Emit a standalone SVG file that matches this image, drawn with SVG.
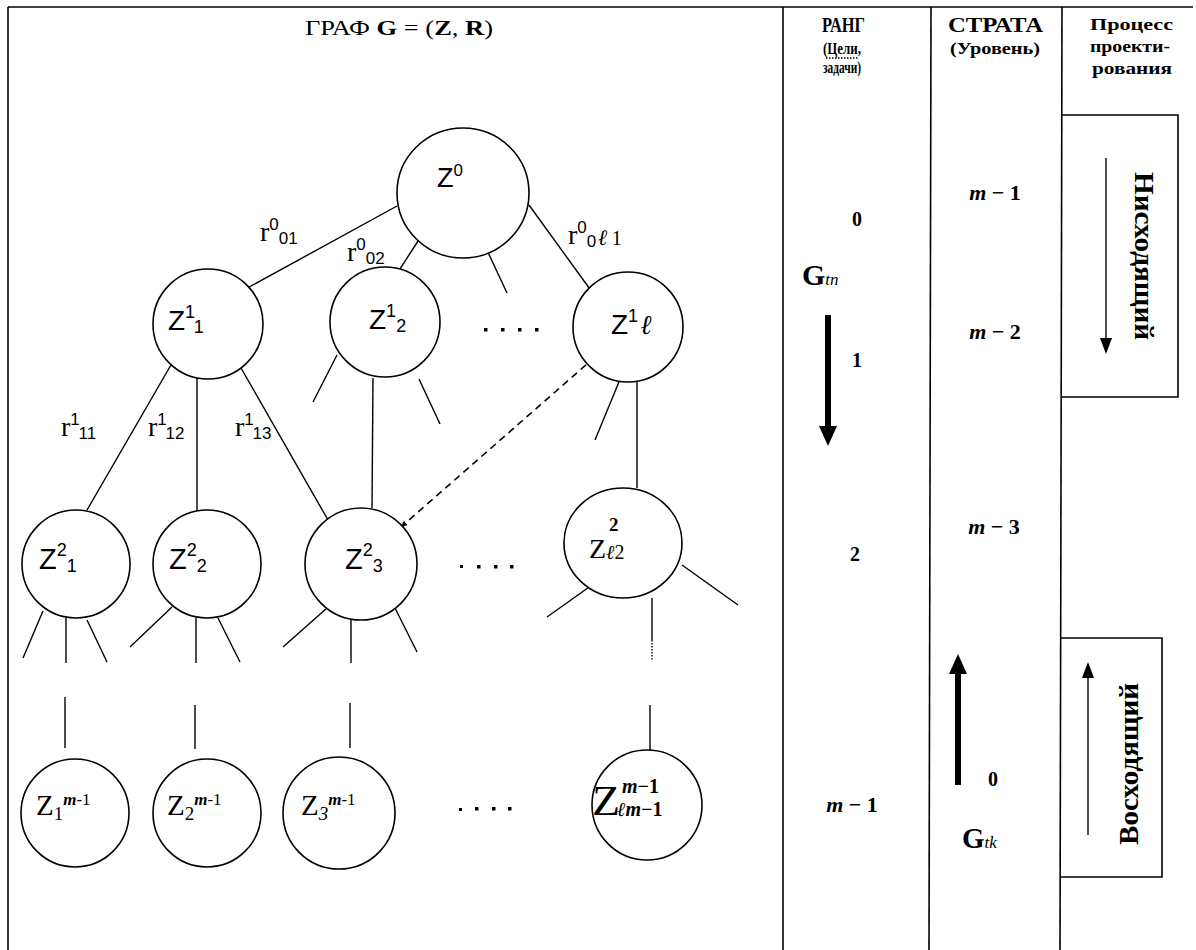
<svg xmlns="http://www.w3.org/2000/svg" width="1196" height="950" viewBox="0 0 1196 950">
  <defs>
    <marker id="tipSmall" viewBox="0 0 10 10" refX="9" refY="5" markerWidth="7" markerHeight="7" orient="auto" markerUnits="userSpaceOnUse">
      <path d="M0,1 L10,5 L0,9 z" fill="#000"/>
    </marker>
    <style>
      .frame { stroke: #000; stroke-width: 1.6; fill: none; }
      .ln { stroke: #000; stroke-width: 1.4; fill: none; }
      .dash { stroke: #000; stroke-width: 1.6; fill: none; stroke-dasharray: 7 5; }
      .dot { stroke: #000; stroke-width: 1.4; fill: none; stroke-dasharray: 1.5 1.5; }
      .nd { fill: #fff; stroke: #000; stroke-width: 1.6; }
      .sans { font-family: "Liberation Sans", Arial, sans-serif; fill: #000; }
      .serif { font-family: "Liberation Serif", "Times New Roman", serif; fill: #000; }
      .b { font-weight: bold; }
      .i { font-style: italic; }
      .dots { fill: #000; }
    </style>
  </defs>

  <rect width="1196" height="950" fill="#fff"/>

  <!-- table frame -->
  <g id="frame">
    <line class="frame" x1="8" y1="7" x2="1193" y2="7"/>
    <line class="frame" x1="8" y1="7" x2="8" y2="950"/>
    <line class="frame" x1="783" y1="7" x2="783" y2="950"/>
    <line class="frame" x1="931" y1="7" x2="929" y2="950"/>
    <line class="frame" x1="1062" y1="7" x2="1060" y2="950"/>
  </g>

  <!-- column headers -->
  <g id="headers">
    <text class="serif" x="305" y="35" font-size="22" textLength="188" lengthAdjust="spacingAndGlyphs">ГРАФ  <tspan class="b">G</tspan> = (<tspan class="b">Z</tspan>, <tspan class="b">R</tspan>)</text>
    <text class="serif b" x="822" y="32" font-size="20" textLength="43" lengthAdjust="spacingAndGlyphs">РАНГ</text>
    <text class="serif b" x="823" y="54" font-size="16" textLength="38" lengthAdjust="spacingAndGlyphs">(Цели,</text>
    <line class="dot" x1="826" y1="58" x2="858" y2="58" stroke-width="1"/>
    <text class="serif b" x="823" y="73" font-size="16" textLength="38" lengthAdjust="spacingAndGlyphs">задачи)</text>
    <text class="serif b" x="948" y="32" font-size="20" textLength="95" lengthAdjust="spacingAndGlyphs">СТРАТА</text>
    <text class="serif b" x="950" y="54" font-size="16" textLength="90" lengthAdjust="spacingAndGlyphs">(Уровень)</text>
    <text class="serif b" x="1090" y="30" font-size="16" textLength="83" lengthAdjust="spacingAndGlyphs">Процесс</text>
    <text class="serif b" x="1090" y="52" font-size="16" textLength="80" lengthAdjust="spacingAndGlyphs">проекти-</text>
    <text class="serif b" x="1092" y="74" font-size="16" textLength="80" lengthAdjust="spacingAndGlyphs">рования</text>
  </g>

  <!-- tree edges -->
  <g id="connectors">
    <line class="ln" x1="397" y1="206" x2="242" y2="291"/>
    <line class="ln" x1="420" y1="238" x2="398" y2="272"/>
    <line class="ln" x1="486" y1="248" x2="507" y2="293"/>
    <line class="ln" x1="529" y1="205" x2="592" y2="292"/>

    <line class="ln" x1="175" y1="358" x2="87" y2="510"/>
    <line class="ln" x1="197" y1="378" x2="197" y2="511"/>
    <line class="ln" x1="241" y1="368" x2="328" y2="520"/>
    <line class="ln" x1="337" y1="355" x2="313" y2="402"/>
    <line class="ln" x1="373" y1="378" x2="372" y2="508"/>
    <line class="ln" x1="419" y1="379" x2="440" y2="424"/>
    <line class="ln" x1="621" y1="377" x2="595" y2="440"/>
    <line class="ln" x1="637" y1="382" x2="637" y2="488"/>
    <line class="dash" x1="595" y1="357" x2="401" y2="527" marker-end="url(#tipSmall)"/>

    <line class="ln" x1="43" y1="611" x2="23" y2="658"/>
    <line class="ln" x1="66" y1="618" x2="66" y2="663"/>
    <line class="ln" x1="87" y1="620" x2="107" y2="662"/>
    <line class="ln" x1="172" y1="607" x2="130" y2="647"/>
    <line class="ln" x1="196" y1="618" x2="196" y2="663"/>
    <line class="ln" x1="218" y1="618" x2="240" y2="662"/>
    <line class="ln" x1="327" y1="608" x2="283" y2="647"/>
    <line class="ln" x1="351" y1="619" x2="351" y2="663"/>
    <line class="ln" x1="395" y1="608" x2="417" y2="652"/>
    <line class="ln" x1="592" y1="585" x2="547" y2="617"/>
    <line class="ln" x1="682" y1="565" x2="738" y2="605"/>
    <line class="ln" x1="652" y1="598" x2="652" y2="640"/>
    <line class="dot" x1="652" y1="640" x2="652" y2="660"/>

    <line class="ln" x1="65" y1="697" x2="65" y2="748"/>
    <line class="ln" x1="195" y1="705" x2="195" y2="749"/>
    <line class="ln" x1="350" y1="703" x2="350" y2="748"/>
    <line class="ln" x1="650" y1="705" x2="650" y2="750"/>
  </g>

  <!-- edge labels -->
  <g id="edge-labels">
    <text class="serif" x="260" y="241" font-size="28">r<tspan class="sans" font-size="17" dy="-11">0</tspan><tspan class="sans" font-size="17" dy="14">01</tspan></text>
    <text class="serif" x="347" y="261" font-size="28">r<tspan class="sans" font-size="17" dy="-11">0</tspan><tspan class="sans" font-size="17" dy="14">02</tspan></text>
    <text class="serif" x="568" y="244" font-size="28">r<tspan class="sans" font-size="17" dy="-11">0</tspan><tspan class="sans" font-size="17" dy="14">0</tspan><tspan class="i b" font-size="22" dx="2" dy="-2">ℓ</tspan><tspan font-size="20" dx="4">1</tspan></text>
    <text class="serif" x="61" y="436" font-size="28">r<tspan class="sans" font-size="17" dy="-11">1</tspan><tspan class="sans" font-size="17" dy="14">11</tspan></text>
    <text class="serif" x="148" y="436" font-size="28">r<tspan class="sans" font-size="17" dy="-11">1</tspan><tspan class="sans" font-size="17" dy="14">12</tspan></text>
    <text class="serif" x="235" y="436" font-size="28">r<tspan class="sans" font-size="17" dy="-11">1</tspan><tspan class="sans" font-size="17" dy="14">13</tspan></text>
  </g>

  <!-- level 0 -->
  <g id="z0">
    <ellipse class="nd" cx="463" cy="193" rx="66" ry="65"/>
    <text class="sans" x="437" y="187" font-size="27">Z<tspan font-size="17" dy="-11">0</tspan></text>
  </g>

  <!-- level 1 -->
  <g id="z1-1">
    <circle class="nd" cx="208" cy="324" r="55"/>
    <text class="sans" x="168" y="330" font-size="28">Z<tspan font-size="18" dy="-12">1</tspan><tspan font-size="18" dy="15">1</tspan></text>
  </g>
  <g id="z1-2">
    <circle class="nd" cx="385" cy="322" r="55"/>
    <text class="sans" x="369" y="329" font-size="28">Z<tspan font-size="18" dy="-12">1</tspan><tspan font-size="18" dy="15">2</tspan></text>
  </g>
  <g id="z1-l">
    <circle class="nd" cx="628" cy="327" r="55"/>
    <text class="sans" x="611" y="334" font-size="28">Z<tspan font-size="18" dy="-12">1</tspan><tspan class="serif i" font-size="27" dx="2" dy="12">ℓ</tspan></text>
  </g>

  <!-- level 2 -->
  <g id="z2-1">
    <circle class="nd" cx="76" cy="564" r="54"/>
    <text class="sans" x="39" y="569" font-size="29">Z<tspan font-size="18" dy="-13">2</tspan><tspan font-size="18" dy="16">1</tspan></text>
  </g>
  <g id="z2-2">
    <circle class="nd" cx="207" cy="564" r="54"/>
    <text class="sans" x="169" y="569" font-size="29">Z<tspan font-size="18" dy="-13">2</tspan><tspan font-size="18" dy="16">2</tspan></text>
  </g>
  <g id="z2-3">
    <circle class="nd" cx="361" cy="564" r="56"/>
    <text class="sans" x="345" y="569" font-size="29">Z<tspan font-size="18" dy="-13">2</tspan><tspan font-size="18" dy="16">3</tspan></text>
  </g>
  <g id="z2-l">
    <ellipse class="nd" cx="623" cy="543" rx="59" ry="55"/>
    <text class="serif b" x="609" y="531" font-size="19">2</text>
    <text class="serif" x="589" y="558" font-size="28">Z<tspan class="i" font-size="20" dy="1">ℓ</tspan><tspan font-size="20">2</tspan></text>
  </g>

  <!-- level m-1 -->
  <g id="zm-1">
    <circle class="nd" cx="75" cy="813" r="54"/>
    <text class="serif" x="36" y="815" font-size="29">Z<tspan font-size="19" dy="5">1</tspan><tspan class="i b" font-size="17" dy="-15">m</tspan><tspan font-size="17">-1</tspan></text>
  </g>
  <g id="zm-2">
    <circle class="nd" cx="207" cy="813" r="54"/>
    <text class="serif" x="167" y="815" font-size="29">Z<tspan font-size="19" dy="5">2</tspan><tspan class="i b" font-size="17" dy="-15">m</tspan><tspan font-size="17">-1</tspan></text>
  </g>
  <g id="zm-3">
    <circle class="nd" cx="339" cy="813" r="56"/>
    <text class="serif" x="301" y="815" font-size="29">Z<tspan class="i" font-size="19" dy="5">3</tspan><tspan class="i b" font-size="17" dy="-15">m</tspan><tspan font-size="17">-1</tspan></text>
  </g>
  <g id="zm-l">
    <circle class="nd" cx="647" cy="805" r="55"/>
    <text class="serif" x="592" y="815" font-size="42" textLength="28" lengthAdjust="spacingAndGlyphs">Z</text>
    <text class="serif b" x="622" y="793" font-size="20"><tspan class="i">m</tspan>−1</text>
    <text class="serif b" x="617" y="816" font-size="20"><tspan class="i">ℓm</tspan>−1</text>
  </g>

  <!-- ellipses between siblings -->
  <g id="ellipsis-marks" class="dots">
    <rect x="484" y="328" width="3.5" height="3.5"/>
    <rect x="501" y="328" width="3.5" height="3.5"/>
    <rect x="518" y="328" width="3.5" height="3.5"/>
    <rect x="535" y="328" width="3.5" height="3.5"/>
    <rect x="460" y="565" width="3" height="3"/>
    <rect x="477" y="565" width="3.5" height="3.5"/>
    <rect x="494" y="565" width="3.5" height="3.5"/>
    <rect x="510" y="565" width="3.5" height="3.5"/>
    <rect x="459" y="808" width="3" height="3"/>
    <rect x="475" y="807" width="3.5" height="3.5"/>
    <rect x="492" y="807" width="3.5" height="3.5"/>
    <rect x="508" y="807" width="3.5" height="3.5"/>
  </g>

  <!-- rank column -->
  <g id="rank">
    <text class="serif b" x="857" y="226" font-size="20" text-anchor="middle">0</text>
    <text class="serif b" x="802" y="285" font-size="30">G<tspan class="i" font-weight="normal" font-size="17">tn</tspan></text>
    <line x1="828" y1="315" x2="828" y2="428" stroke="#000" stroke-width="6"/>
    <polygon points="819,426 837,426 828,446" fill="#000"/>
    <text class="serif b" x="857" y="367" font-size="20" text-anchor="middle">1</text>
    <text class="serif b" x="855" y="561" font-size="20" text-anchor="middle">2</text>
    <text class="serif b" x="852" y="812" font-size="22" text-anchor="middle"><tspan class="i">m</tspan> − 1</text>
  </g>

  <!-- strata column -->
  <g id="strata">
    <text class="serif b" x="995" y="200" font-size="22" text-anchor="middle"><tspan class="i">m</tspan> − 1</text>
    <text class="serif b" x="995" y="339" font-size="22" text-anchor="middle"><tspan class="i">m</tspan> − 2</text>
    <text class="serif b" x="994" y="534" font-size="22" text-anchor="middle"><tspan class="i">m</tspan> − 3</text>
    <line x1="958" y1="785" x2="958" y2="672" stroke="#000" stroke-width="6"/>
    <polygon points="949,674 967,674 958,654" fill="#000"/>
    <text class="serif b" x="993" y="786" font-size="20" text-anchor="middle">0</text>
    <text class="serif b" x="962" y="848" font-size="29">G<tspan class="i" font-weight="normal" font-size="17">tk</tspan></text>
  </g>

  <!-- design process column -->
  <g id="process-down">
    <polyline class="frame" points="1062,115 1178,115 1178,397 1062,397"/>
    <line class="ln" x1="1106" y1="158" x2="1106" y2="340"/>
    <polygon points="1100,338 1112,338 1106,354" fill="#000"/>
    <text class="serif b" transform="translate(1135,256) rotate(90)" font-size="27" text-anchor="middle" textLength="168" lengthAdjust="spacingAndGlyphs">Нисходящий</text>
  </g>
  <g id="process-up">
    <polyline class="frame" points="1060,638 1162,638 1162,877 1060,877"/>
    <line class="ln" x1="1088" y1="835" x2="1088" y2="676"/>
    <polygon points="1082,678 1094,678 1088,662" fill="#000"/>
    <text class="serif b" transform="translate(1138,764) rotate(-90)" font-size="27" text-anchor="middle" textLength="162" lengthAdjust="spacingAndGlyphs">Восходящий</text>
  </g>
</svg>
